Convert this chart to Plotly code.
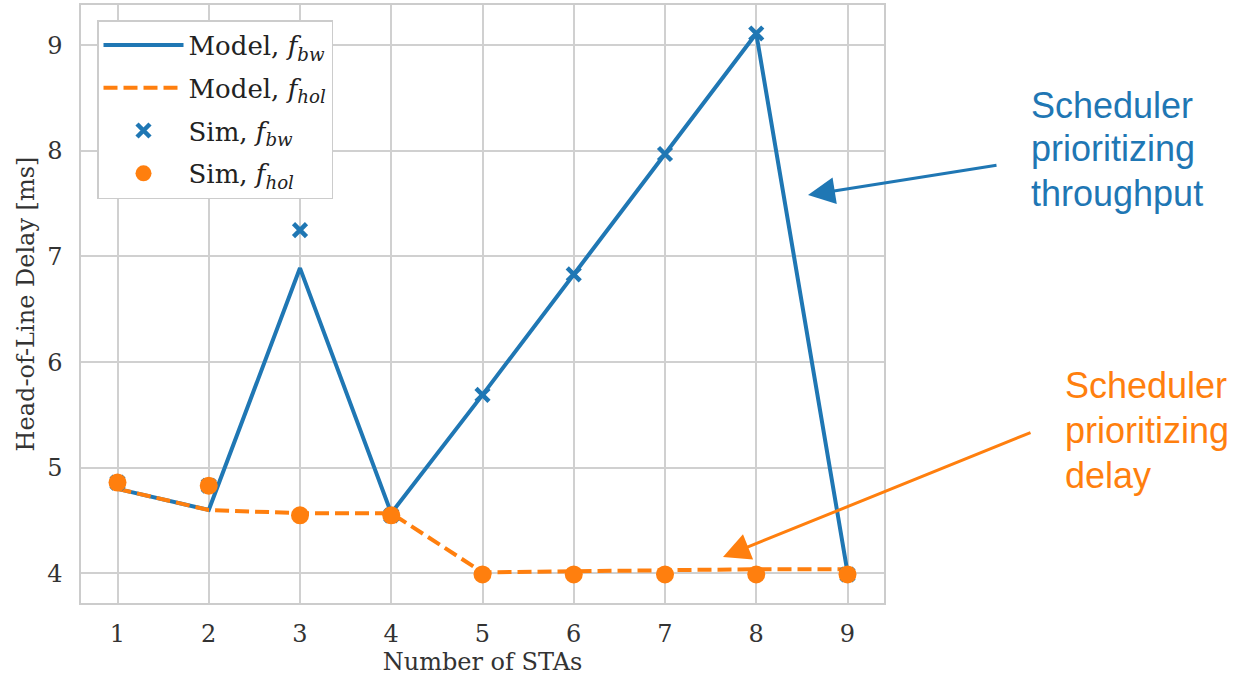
import plotly.graph_objects as go

stas = [1, 2, 3, 4, 5, 6, 7, 8, 9]
model_bw = [4.80, 4.60, 6.89, 4.57, 5.69, 6.83, 7.97, 9.11, 4.01]
model_hol = [4.80, 4.60, 4.57, 4.57, 4.01, 4.02, 4.03, 4.04, 4.04]
sim_bw = [4.86, 4.83, 7.25, 4.55, 5.69, 6.83, 7.97, 9.11, 3.99]
sim_hol = [4.86, 4.83, 4.55, 4.55, 3.99, 3.99, 3.99, 3.99, 3.99]

note_bw = ["Scheduler", "prioritizing", "throughput"]
note_hol = ["Scheduler", "prioritizing", "delay"]

BLUE = "#1f77b4"
ORANGE = "#ff7f0e"
SERIF = "DejaVu Serif"
TXT = "#333333"

fig = go.Figure()
fig.add_trace(go.Scatter(x=stas, y=model_bw, mode="lines", name="Model, <i>f</i><sub><i>bw</i></sub>",
                         line=dict(color=BLUE, width=4), legendgroup="a"))
fig.add_trace(go.Scatter(x=stas, y=model_hol, mode="lines", name="Model, <i>f</i><sub><i>hol</i></sub>",
                         line=dict(color=ORANGE, width=4, dash="14px,6px"), legendgroup="b"))
fig.add_trace(go.Scatter(x=stas, y=sim_bw, mode="markers", name="Sim, <i>f</i><sub><i>bw</i></sub>",
                         marker=dict(symbol="x-thin", size=13, color=BLUE, line=dict(width=4.5, color=BLUE)),
                         legendgroup="c"))
fig.add_trace(go.Scatter(x=stas, y=sim_hol, mode="markers", name="Sim, <i>f</i><sub><i>hol</i></sub>",
                         marker=dict(symbol="circle", size=18, color=ORANGE), legendgroup="d"))

W, H = 1244, 679
L, R, T, B = 81, 360, 5, 76
pw, ph = W - L - R, H - T - B

def px(xp):
    return (xp - L) / pw

def py(yp):
    return (H - B - yp) / ph

# arrows
fig.add_annotation(xref="paper", yref="paper", x=px(808), y=py(195), ax=190, ay=-30,
                   axref="pixel", ayref="pixel", text="", showarrow=True,
                   arrowhead=2, arrowsize=1.8, arrowwidth=3, arrowcolor=BLUE, standoff=0)
fig.add_annotation(xref="paper", yref="paper", x=px(723), y=py(557), ax=309, ay=-125,
                   axref="pixel", ayref="pixel", text="", showarrow=True,
                   arrowhead=2, arrowsize=1.8, arrowwidth=3, arrowcolor=ORANGE, standoff=0)
# texts, one annotation per line to match the reference line spacing
for i, line in enumerate(note_bw):
    fig.add_annotation(xref="paper", yref="paper", x=px(1029), y=py(117 + 44 * i - 12),
                       xanchor="left", yanchor="middle", text=line, showarrow=False,
                       font=dict(family="Liberation Sans, Arial", size=36, color=BLUE))
for i, line in enumerate(note_hol):
    fig.add_annotation(xref="paper", yref="paper", x=px(1063), y=py(397 + 45 * i - 12),
                       xanchor="left", yanchor="middle", text=line, showarrow=False,
                       font=dict(family="Liberation Sans, Arial", size=36, color=ORANGE))

axis_common = dict(showgrid=True, gridcolor="#d0d0d0", gridwidth=1.5, zeroline=False,
                   showline=True, linecolor="#cccccc", linewidth=1.5, mirror=True,
                   ticks="outside", tickcolor="rgba(0,0,0,0)", automargin=False,
                   tickfont=dict(family=SERIF, size=24, color=TXT))

fig.update_layout(
    width=W, height=H,
    margin=dict(l=L, r=R, t=T, b=B, autoexpand=False),
    plot_bgcolor="white", paper_bgcolor="white",
    font=dict(family=SERIF, color=TXT),
    xaxis=dict(range=[0.6, 9.4], tickvals=stas, ticklen=8,
               title=dict(text="Number of STAs", font=dict(family=SERIF, size=24, color=TXT), standoff=6),
               **axis_common),
    yaxis=dict(range=[3.72, 9.38], tickvals=[4, 5, 6, 7, 8, 9], ticklen=12,
               title=dict(text="Head-of-Line Delay [ms]", font=dict(family=SERIF, size=24, color=TXT), standoff=6),
               **axis_common),
    legend=dict(x=px(97), y=py(20), xanchor="left", yanchor="top",
                bgcolor="white", bordercolor="#cccccc", borderwidth=1.5,
                font=dict(family=SERIF, size=26, color="#222222"),
                tracegroupgap=6, traceorder="grouped", itemwidth=80),
    showlegend=True,
)

fig.write_html("out.html", config={"displayModeBar": False},
               post_script="document.body.style.margin='0';")
